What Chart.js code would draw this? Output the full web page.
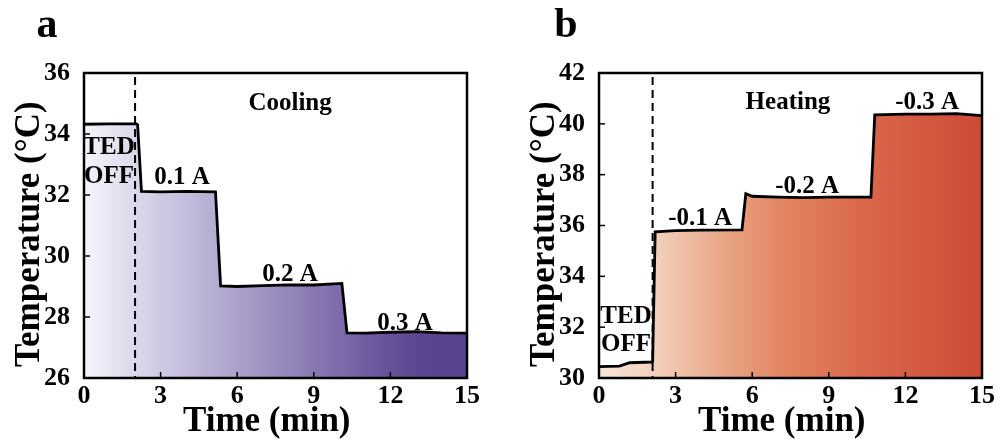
<!DOCTYPE html>
<html>
<head>
<meta charset="utf-8">
<script src="https://cdn.jsdelivr.net/npm/chart.js@4.4.1/dist/chart.umd.min.js"></script>
<style>
    body { margin: 0; background: #fff; width: 1007px; height: 448px; overflow: hidden; position: relative; }
    .panel { position: absolute; top: 0; height: 448px; }
</style>
</head>
<body>
<div class="panel" style="left:0;width:503px"><canvas id="chartA"></canvas></div>
<div class="panel" style="left:515px;width:492px"><canvas id="chartB"></canvas></div>
<script>
// time axis (min), shared by both panels
const xTicks = [0, 3, 6, 9, 12, 15];

// panel a: cooling
const timeA = [0, 1, 2.05, 2.1, 2.25, 3, 4, 5.15, 5.35, 6, 7, 8, 9, 10.1, 10.3, 11, 12, 13, 14, 15];
const tempA = [34.32, 34.33, 34.33, 34.3, 32.12, 32.1, 32.12, 32.1, 29.02, 29.0, 29.03, 29.05, 29.05, 29.1, 27.48, 27.47, 27.5, 27.52, 27.48, 27.47];
const yTicksA = [26, 28, 30, 32, 34, 36];
const switchA = 2.0;
const labelsA = [
    { text: 'Cooling', x: 8.07, y: 35.0 },
    { text: 'TED', x: 0.98, y: 33.54 },
    { text: 'OFF', x: 0.98, y: 32.59 },
    { text: '0.1 A', x: 3.84, y: 32.56 },
    { text: '0.2 A', x: 8.07, y: 29.38 },
    { text: '0.3 A', x: 12.57, y: 27.77 }
];

// panel b: heating
const timeB = [0, 0.8, 1.2, 2.05, 2.1, 2.2, 3, 4, 5.6, 5.75, 6, 7, 8, 9, 10.65, 10.8, 12, 13, 14, 15];
const tempB = [30.45, 30.47, 30.6, 30.63, 30.65, 35.75, 35.8, 35.82, 35.83, 37.25, 37.15, 37.12, 37.1, 37.12, 37.12, 40.35, 40.38, 40.38, 40.4, 40.32];
const yTicksB = [30, 32, 34, 36, 38, 40, 42];
const switchB = 2.1;
const labelsB = [
    { text: 'Heating', x: 7.4, y: 40.82 },
    { text: '-0.3 A', x: 12.85, y: 40.82 },
    { text: '-0.2 A', x: 8.15, y: 37.55 },
    { text: '-0.1 A', x: 3.96, y: 36.29 },
    { text: 'TED', x: 1.06, y: 32.4 },
    { text: 'OFF', x: 1.06, y: 31.3 }
];

const FONT = '"Liberation Serif", "Times New Roman", serif';
const purpleStops = [[0, '#f5f4fa'], [0.25, '#c6c0de'], [0.5, '#9b8dbf'], [0.75, '#6e5a9f'], [0.88, '#5b4491'], [1, '#5a4390']];
const redStops = [[0, '#f8e6dc'], [0.15, '#f2cfba'], [0.35, '#e8a080'], [0.5, '#e2825f'], [0.7, '#d9664a'], [1, '#cc4b36']];

const decorPlugin = {
    id: 'decor',
    afterDatasetsDraw(chart, args, opts) {
        const { ctx, chartArea: a, scales } = chart;
        // dashed switch-on line
        const sx = scales.x.getPixelForValue(opts.switchAt);
        ctx.save();
        ctx.strokeStyle = '#000'; ctx.lineWidth = 2; ctx.setLineDash([8, 5]);
        ctx.beginPath(); ctx.moveTo(sx, a.top + 4); ctx.lineTo(sx, a.bottom); ctx.stroke();
        ctx.restore();
    },
    afterDraw(chart, args, opts) {
        const { ctx, chartArea: a, scales } = chart;
        ctx.save();
        // frame
        ctx.strokeStyle = '#000'; ctx.lineWidth = 2.5;
        ctx.strokeRect(a.left, a.top, a.right - a.left, a.bottom - a.top);
        // inward ticks
        ctx.lineWidth = 1.5;
        scales.x.ticks.forEach(t => {
            const px = scales.x.getPixelForValue(t.value);
            ctx.beginPath(); ctx.moveTo(px, a.bottom); ctx.lineTo(px, a.bottom - 6); ctx.stroke();
        });
        scales.y.ticks.forEach(t => {
            const py = scales.y.getPixelForValue(t.value);
            ctx.beginPath(); ctx.moveTo(a.left, py); ctx.lineTo(a.left + 6, py); ctx.stroke();
        });
        // text labels
        ctx.fillStyle = '#000';
        ctx.textAlign = 'center'; ctx.textBaseline = 'middle';
        ctx.font = 'bold 25px ' + FONT;
        opts.labels.forEach(l => {
            ctx.fillText(l.text, scales.x.getPixelForValue(l.x), scales.y.getPixelForValue(l.y));
        });
        // panel letter
        ctx.font = 'bold 42px ' + FONT;
        ctx.textBaseline = 'alphabetic';
        ctx.fillText(opts.letter, opts.letterX, 37);
        ctx.restore();
    }
};

function makeChart(id, times, temps, yTicks, stops, switchAt, labels, letter, letterX, padRight) {
    const tickFont = { family: FONT, size: 26, weight: 'bold' };
    const titleFont = { family: FONT, size: 35, weight: 'bold' };
    return new Chart(document.getElementById(id).getContext('2d'), {
        type: 'line',
        data: {
            datasets: [{
                data: times.map((t, i) => ({ x: t, y: temps[i] })),
                borderColor: '#000',
                borderWidth: 2.8,
                pointRadius: 0,
                tension: 0,
                fill: 'start',
                backgroundColor: c => {
                    const a = c.chart.chartArea;
                    if (!a) return 'transparent';
                    const g = c.chart.ctx.createLinearGradient(a.left, 0, a.right, 0);
                    stops.forEach(s => g.addColorStop(s[0], s[1]));
                    return g;
                }
            }]
        },
        options: {
            responsive: true, maintainAspectRatio: false, animation: false,
            layout: { padding: { top: 73, right: padRight, left: 0, bottom: 0 } },
            plugins: {
                legend: { display: false }, tooltip: { enabled: false },
                decor: { switchAt: switchAt, labels: labels, letter: letter, letterX: letterX }
            },
            scales: {
                x: {
                    type: 'linear', min: 0, max: 15,
                    afterBuildTicks: s => { s.ticks = xTicks.map(v => ({ value: v })); },
                    afterFit: s => { s.height = 70; },
                    grid: { display: false }, border: { display: false },
                    ticks: { color: '#000', font: tickFont, padding: -5, maxRotation: 0, autoSkip: false },
                    // trailing spaces nudge the title left like the original
                    title: { display: true, text: 'Time (min)\u00a0\u00a0', color: '#000', font: titleFont, padding: { top: 0, bottom: 5 } }
                },
                y: {
                    type: 'linear', min: yTicks[0], max: yTicks[yTicks.length - 1],
                    afterBuildTicks: s => { s.ticks = yTicks.map(v => ({ value: v })); },
                    afterFit: s => { s.width = 84; },
                    grid: { display: false }, border: { display: false },
                    ticks: { color: '#000', font: tickFont, padding: 6, autoSkip: false },
                    title: { display: true, text: 'Temperature (°C)\u00a0\u00a0', color: '#000', font: titleFont, padding: { top: 9, bottom: 0 } }
                }
            }
        },
        plugins: [decorPlugin]
    });
}

makeChart('chartA', timeA, tempA, yTicksA, purpleStops, switchA, labelsA, 'a', 47, 36);
makeChart('chartB', timeB, tempB, yTicksB, redStops, switchB, labelsB, 'b', 51, 25);
</script>
</body>
</html>
